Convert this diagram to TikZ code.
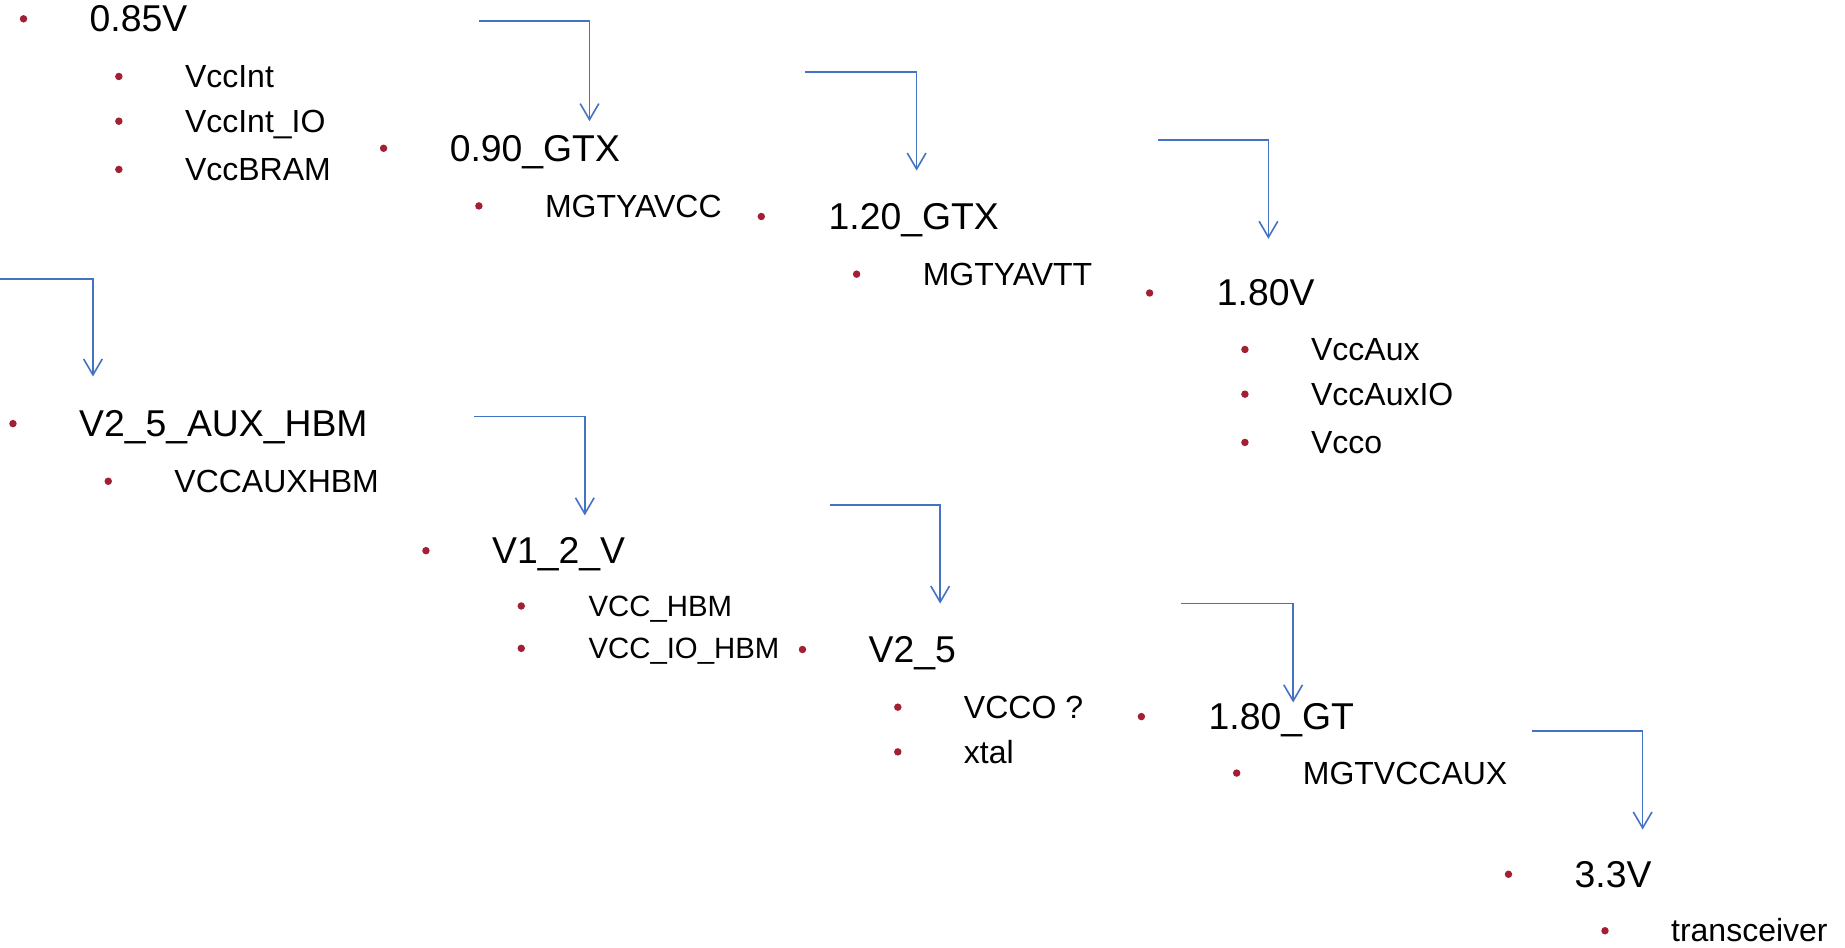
\documentclass[tikz,border=0pt]{standalone}
\usepackage{fontspec}
\setmainfont{Liberation Sans}
\usetikzlibrary{arrows.meta}
\definecolor{dotred}{RGB}{163,31,52}
\definecolor{arrowblue}{RGB}{68,114,196}

\begin{document}
\begin{tikzpicture}[x=0.8825pt, y=-0.8825pt,
    head/.style={anchor=base west, inner sep=0pt, font=\fontsize{28}{34}\selectfont},
    sub/.style={anchor=base west, inner sep=0pt, font=\fontsize{24}{29}\selectfont},
    subsmall/.style={sub, font=\fontsize{22}{26}\selectfont},
    dot/.style={fill=dotred},
    flow/.style={draw=arrowblue, line width=1.2pt, -{Straight Barb[length=12pt, width=14pt]}}]
    \useasboundingbox (0,0) rectangle (1568,805);

    % Define the start and end points of the arrows
    \coordinate (A1) at (407,18);   \coordinate (B1) at (501,103);
    \coordinate (A2) at (684,61);   \coordinate (B2) at (779,145);
    \coordinate (A3) at (984,119);  \coordinate (B3) at (1078,203);
    \coordinate (A4) at (0,237);    \coordinate (B4) at (79,320);
    \coordinate (A5) at (403,354);  \coordinate (B5) at (497,438);
    \coordinate (A6) at (705,429);  \coordinate (B6) at (799,513);
    \coordinate (A7) at (1004,513); \coordinate (B7) at (1099,597);
    \coordinate (A8) at (1302,621); \coordinate (B8) at (1396,705);

    % Draw the elbow arrows
    \draw[flow] (A1) -| (B1);
    \draw[flow] (A2) -| (B2);
    \draw[flow] (A3) -| (B3);
    \draw[flow] (A4) -| (B4);
    \draw[flow] (A5) -| (B5);
    \draw[flow] (A6) -| (B6);
    \draw[flow] (A7) -| (B7);
    \draw[flow] (A8) -| (B8);

    % Place the voltage rails
    \node[head] (v085) at (76,27) {0.85V};           \fill[dot] (20,16) circle (2.8pt);
    \node[head] (v090) at (382,137) {0.90\_GTX};     \fill[dot] (326,126) circle (2.8pt);
    \node[head] (v120) at (704,195) {1.20\_GTX};     \fill[dot] (647,184) circle (2.8pt);
    \node[head] (v180) at (1034,260) {1.80V};        \fill[dot] (977,249) circle (2.8pt);
    \node[head] (v25aux) at (67,371) {V2\_5\_AUX\_HBM}; \fill[dot] (11,360) circle (2.8pt);
    \node[head] (v12) at (418,479) {V1\_2\_V};       \fill[dot] (362,468) circle (2.8pt);
    \node[head] (v25) at (738,563) {V2\_5};          \fill[dot] (682,552) circle (2.8pt);
    \node[head] (v180gt) at (1027,620) {1.80\_GT};   \fill[dot] (970,609) circle (2.8pt);
    \node[head] (v33) at (1338,754) {3.3V};          \fill[dot] (1282,743) circle (2.8pt);

    % Place the supplies of each rail
    \node[sub] (vccint) at (157,74.5) {VccInt};          \fill[dot] (101,65) circle (2.8pt);
    \node[sub] (vccintio) at (157,112.5) {VccInt\_IO};   \fill[dot] (101,103) circle (2.8pt);
    \node[sub] (vccbram) at (157,153.5) {VccBRAM};       \fill[dot] (101,144) circle (2.8pt);
    \node[sub] (mgtyavcc) at (463,184.5) {MGTYAVCC};     \fill[dot] (407,175) circle (2.8pt);
    \node[sub] (mgtyavtt) at (784,242.5) {MGTYAVTT};     \fill[dot] (728,233) circle (2.8pt);
    \node[sub] (vccaux) at (1114,306.5) {VccAux};        \fill[dot] (1058,297) circle (2.8pt);
    \node[sub] (vccauxio) at (1114,344.5) {VccAuxIO};    \fill[dot] (1058,335) circle (2.8pt);
    \node[sub] (vcco) at (1114,385.5) {Vcco};            \fill[dot] (1058,376) circle (2.8pt);
    \node[sub] (vccauxhbm) at (148,418.5) {VCCAUXHBM};   \fill[dot] (92,409) circle (2.8pt);
    \node[subsmall] (vcchbm) at (500,524) {VCC\_HBM};       \fill[dot] (443,515) circle (2.8pt);
    \node[subsmall] (vcciohbm) at (500,560) {VCC\_IO\_HBM}; \fill[dot] (443,551) circle (2.8pt);
    \node[sub] (vccoq) at (819,610.5) {VCCO ?};          \fill[dot] (763,601) circle (2.8pt);
    \node[sub] (xtal) at (819,648.5) {xtal};             \fill[dot] (763,639) circle (2.8pt);
    \node[sub] (mgtvccaux) at (1107,666.5) {MGTVCCAUX};  \fill[dot] (1051,657) circle (2.8pt);
    \node[sub] (xcvr) at (1420,800.5) {transceiver};     \fill[dot] (1364,791) circle (2.8pt);

\end{tikzpicture}
\end{document}
